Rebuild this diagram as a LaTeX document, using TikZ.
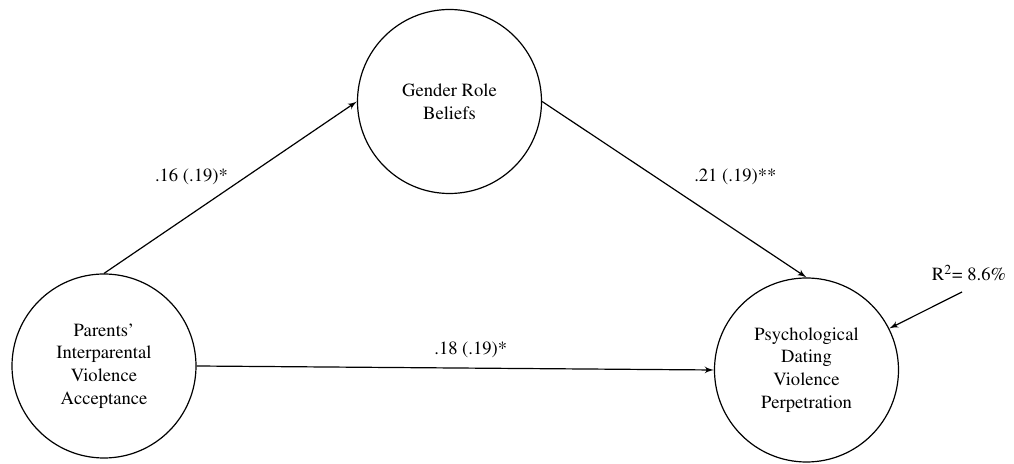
\documentclass[tikz,border=0pt]{standalone}
\usepackage[T1]{fontenc}
\usepackage{mathptmx}
\usetikzlibrary{shapes,arrows,positioning}

\begin{document}
\begin{tikzpicture}[x=0.5pt, y=-0.5pt, auto,
	latent/.style={circle, draw, line width=0.6pt, minimum size=92pt, fill=white, text=black, align=center, font=\fontsize{9.3}{11.4}\selectfont},
	effect/.style={draw, -latex', line width=0.6pt},
	coef/.style={inner sep=1pt, text=black, font=\fontsize{9.3}{11.4}\selectfont}]
	\useasboundingbox (0,0) rectangle (1014,464);
			\node [latent] (parents) at (104,366) {Parents'\\Interparental\\Violence\\Acceptance};
			\node [latent] (gender) at (449.5,101.5) {Gender Role\\Beliefs};
			\node [latent] (psych) at (806.5,370) {Psychological\\Dating\\Violence\\Perpetration};
			\path [effect] (parents.north) -- node [coef, pos=0.5, above left] {.16 (.19)*} (gender.west);
			\path [effect] (gender.east) -- node [coef, pos=0.49, above right, xshift=10pt] {.21 (.19)**} (psych.north);
			\path [effect] (parents.east) -- node [coef, pos=0.53, above, yshift=4pt] {.18 (.19)*} (psych.west);
			\node [coef] (rsq) at (969,273) {R\textsuperscript{2}= 8.6\%};
			\coordinate (rsqtail) at (962,292);
			\path [effect] (rsqtail) -- (psych);
		\end{tikzpicture}
\end{document}
